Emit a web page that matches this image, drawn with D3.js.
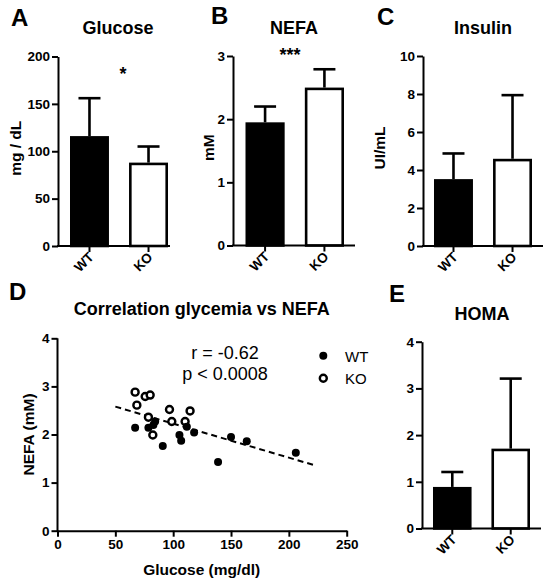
<!DOCTYPE html>
<html><head><meta charset="utf-8">
<script src="https://cdn.jsdelivr.net/npm/d3@7"></script>
<style>
body{margin:0;background:#fff}
svg text{font-family:"Liberation Sans",Arial,Helvetica,sans-serif;fill:#000}
</style>
</head><body>
<svg id="c" width="550" height="584"></svg>
<script>
// ---------- data ----------
const groups = ["WT", "KO"];
const glucoseMean = [116, 88];
const glucoseErr = [40, 17];
const nefaMean = [1.95, 2.50];
const nefaErr = [0.25, 0.29];
const insulinMean = [3.52, 4.59];
const insulinErr = [1.35, 3.35];
const homaMean = [0.89, 1.71];
const homaErr = [0.32, 1.50];

const glucoseTicks = [0, 50, 100, 150, 200];
const nefaTicks = [0, 1, 2, 3];
const insulinTicks = [0, 2, 4, 6, 8, 10];
const homaTicks = [0, 1, 2, 3, 4];

const wtGlucose = [67.1, 78.6, 84.4, 82.9, 91.0, 105.4, 106.9, 111.8, 118.1, 138.8, 150.0, 163.6, 206.0];
const wtNefa    = [2.14, 2.14, 2.27, 2.20, 1.76, 1.99, 1.87, 2.16, 2.04, 1.43, 1.95, 1.86, 1.62];
const koGlucose = [67.1, 75.8, 80.1, 68.6, 78.6, 96.8, 98.8, 114.6, 110.3, 82.4];
const koNefa    = [2.88, 2.79, 2.82, 2.61, 2.36, 2.52, 2.27, 2.49, 2.27, 1.99];
const fitGlucose = [50, 221];
const fitNefa = [2.58, 1.37];
const scatterXTicks = [0, 50, 100, 150, 200, 250];
const scatterYTicks = [0, 1, 2, 3, 4];

// ---------- drawing ----------
const svg = d3.select("#c");
const BOLD = "bold";
const TICKFS = 13.5;

function styleAxis(sel, fs) {
  sel.attr("font-size", fs).attr("font-family", null);
  sel.select(".domain").attr("stroke", "#000").attr("stroke-width", 2);
  sel.selectAll(".tick line").attr("stroke", "#000").attr("stroke-width", 2);
  sel.selectAll(".tick text").attr("font-size", fs).attr("font-weight", BOLD).attr("fill", "#000");
}

function barPanel(c) {
  const g = svg.append("g");
  const y = d3.scaleLinear().domain([0, c.yMax]).range([c.y0, c.yTop]);
  const x = d3.scaleBand().domain(groups).range(c.barRange).paddingInner(0.34).paddingOuter(0);
  const bw = x.bandwidth();
  const sw = 2.6;

  // error bars (upper only)
  groups.forEach((k, i) => {
    const cx = x(k) + bw / 2;
    const top = y(c.mean[i] + c.err[i]);
    g.append("line").attr("x1", cx).attr("x2", cx).attr("y1", y(c.mean[i])).attr("y2", top)
      .attr("stroke", "#000").attr("stroke-width", 2.6);
    g.append("line").attr("x1", cx - 11).attr("x2", cx + 11).attr("y1", top).attr("y2", top)
      .attr("stroke", "#000").attr("stroke-width", 2.6);
  });
  // bars
  g.selectAll("rect.bar").data(groups).join("rect")
    .attr("x", d => x(d) + sw / 2)
    .attr("width", bw - sw)
    .attr("y", (d, i) => y(c.mean[i]) + sw / 2)
    .attr("height", (d, i) => c.y0 - y(c.mean[i]) - sw / 2)
    .attr("fill", (d, i) => i === 0 ? "#000" : "#fff")
    .attr("stroke", "#000").attr("stroke-width", sw);

  // y axis
  const ya = g.append("g").attr("transform", `translate(${c.axisX},0)`)
    .call(d3.axisLeft(y).tickValues(c.ticks).tickSize(6).tickSizeOuter(0).tickPadding(2).tickFormat(d3.format("d")));
  styleAxis(ya, TICKFS);

  // x axis
  g.append("line").attr("x1", c.axisX - 1).attr("x2", c.axisEnd).attr("y1", c.y0).attr("y2", c.y0)
    .attr("stroke", "#000").attr("stroke-width", 2);
  groups.forEach(k => {
    const cx = x(k) + bw / 2;
    g.append("line").attr("x1", cx).attr("x2", cx).attr("y1", c.y0).attr("y2", c.y0 + 6)
      .attr("stroke", "#000").attr("stroke-width", 2);
    g.append("text").attr("transform", `translate(${cx + 5},${c.y0 + 12}) rotate(-45)`)
      .attr("text-anchor", "end").attr("font-size", TICKFS).attr("font-weight", BOLD).text(k);
  });

  // title
  g.append("text").attr("x", c.titleX).attr("y", c.titleY).attr("text-anchor", "middle")
    .attr("font-size", 18).attr("font-weight", BOLD).text(c.title);
  // panel letter
  g.append("text").attr("x", c.letterX).attr("y", c.letterY)
    .attr("font-size", 24).attr("font-weight", BOLD).text(c.letter);
  // y label
  if (c.yLabel) {
    g.append("text").attr("transform", `translate(${c.yLabelX},${(c.y0 + c.yTop) / 2 - 3}) rotate(-90)`)
      .attr("text-anchor", "middle").attr("font-size", 15.5).attr("font-weight", BOLD).text(c.yLabel);
  }
  if (c.star) {
    g.append("text").attr("x", c.starX).attr("y", c.starY).attr("text-anchor", "middle")
      .attr("font-size", 18).attr("font-weight", BOLD).text(c.star);
  }
}

barPanel({ mean: glucoseMean, err: glucoseErr, ticks: glucoseTicks, yMax: 200,
  axisX: 58, axisEnd: 170, y0: 246, yTop: 56.5, barRange: [70, 168],
  title: "Glucose", titleX: 118, titleY: 34, letter: "A", letterX: 11, letterY: 26,
  yLabel: "mg / dL", yLabelX: 20.5, star: "*", starX: 123, starY: 80 });

barPanel({ mean: nefaMean, err: nefaErr, ticks: nefaTicks, yMax: 3,
  axisX: 233, axisEnd: 355, y0: 245.5, yTop: 56, barRange: [245.5, 344],
  title: "NEFA", titleX: 294, titleY: 33.5, letter: "B", letterX: 211, letterY: 24,
  yLabel: "mM", yLabelX: 214, star: "***", starX: 290, starY: 61 });

barPanel({ mean: insulinMean, err: insulinErr, ticks: insulinTicks, yMax: 10,
  axisX: 423, axisEnd: 543, y0: 246, yTop: 56, barRange: [434, 532],
  title: "Insulin", titleX: 483, titleY: 33.5, letter: "C", letterX: 377, letterY: 25,
  yLabel: "UI/mL", yLabelX: 385 });

barPanel({ mean: homaMean, err: homaErr, ticks: homaTicks, yMax: 4,
  axisX: 422, axisEnd: 541, y0: 528.5, yTop: 341.7, barRange: [433, 530],
  title: "HOMA", titleX: 482, titleY: 319.5, letter: "E", letterX: 389, letterY: 302 });

// ---------- scatter panel D ----------
(function () {
  const g = svg.append("g");
  const x = d3.scaleLinear().domain([0, 250]).range([57.5, 346.7]);
  const y = d3.scaleLinear().domain([0, 4]).range([530.7, 338.3]);

  const xa = g.append("g").attr("transform", `translate(0,${y(0)})`)
    .call(d3.axisBottom(x).tickValues(scatterXTicks).tickSize(6).tickSizeOuter(0).tickPadding(3).tickFormat(d3.format("d")));
  styleAxis(xa, TICKFS);
  const ya = g.append("g").attr("transform", `translate(${x(0)},0)`)
    .call(d3.axisLeft(y).tickValues(scatterYTicks).tickSize(6).tickSizeOuter(0).tickPadding(2).tickFormat(d3.format("d")));
  styleAxis(ya, TICKFS);
  ya.select(".domain").attr("d", `M0,${y(0) + 1}V${y(4)}`);

  // regression line
  g.append("line").attr("x1", x(fitGlucose[0])).attr("y1", y(fitNefa[0]))
    .attr("x2", x(fitGlucose[1])).attr("y2", y(fitNefa[1]))
    .attr("stroke", "#000").attr("stroke-width", 2).attr("stroke-dasharray", "6,4");

  // points
  g.selectAll("circle.ko").data(koGlucose).join("circle").attr("class", "ko")
    .attr("cx", d => x(d)).attr("cy", (d, i) => y(koNefa[i])).attr("r", 3.5)
    .attr("fill", "#fff").attr("stroke", "#000").attr("stroke-width", 2.4);
  g.selectAll("circle.wt").data(wtGlucose).join("circle").attr("class", "wt")
    .attr("cx", d => x(d)).attr("cy", (d, i) => y(wtNefa[i])).attr("r", 4)
    .attr("fill", "#000");

  // legend
  g.append("circle").attr("cx", 323.3).attr("cy", 355.7).attr("r", 4).attr("fill", "#000");
  g.append("text").attr("x", 345).attr("y", 361.5).attr("font-size", 15).text("WT");
  g.append("circle").attr("cx", 323.3).attr("cy", 378.3).attr("r", 3.5)
    .attr("fill", "#fff").attr("stroke", "#000").attr("stroke-width", 2.4);
  g.append("text").attr("x", 345).attr("y", 384).attr("font-size", 15).text("KO");

  // stats
  g.append("text").attr("x", 225).attr("y", 359).attr("text-anchor", "middle").attr("font-size", 18).text("r = -0.62");
  g.append("text").attr("x", 225).attr("y", 379.5).attr("text-anchor", "middle").attr("font-size", 18).text("p < 0.0008");

  // titles/labels
  g.append("text").attr("x", 201.7).attr("y", 315).attr("text-anchor", "middle")
    .attr("font-size", 18).attr("font-weight", BOLD).text("Correlation glycemia vs NEFA");
  g.append("text").attr("x", 201.7).attr("y", 575).attr("text-anchor", "middle")
    .attr("font-size", 15.5).attr("font-weight", BOLD).text("Glucose (mg/dl)");
  g.append("text").attr("transform", `translate(33.5,${(y(0) + y(4)) / 2}) rotate(-90)`)
    .attr("text-anchor", "middle").attr("font-size", 15.5).attr("font-weight", BOLD).text("NEFA (mM)");
  g.append("text").attr("x", 9).attr("y", 300).attr("font-size", 24).attr("font-weight", BOLD).text("D");
})();
</script>
</body></html>
